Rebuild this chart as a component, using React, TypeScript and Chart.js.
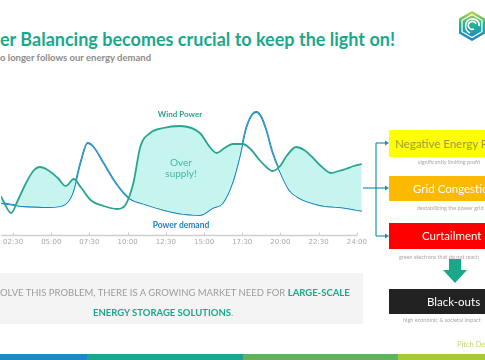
import React, { useEffect, useRef } from "react";
import { Chart, registerables } from "chart.js";

Chart.register(...registerables);

// ---- data ----
const tickLabels = ["00:00", "02:30", "05:00", "07:30", "10:00", "12:30", "15:00", "17:30", "20:00", "22:30", "24:00"];
const tickSlots = [1, 2, 3, 4, 5, 6, 7, 8, 9, 10];

// x = time slot (one slot per tick label), y = power (arbitrary units)
const windSlots = [0.48, 0.69, 0.95, 1.13, 1.34, 1.55, 1.70, 1.91, 2.17, 2.38, 2.59, 2.77, 3.03, 3.37, 3.73, 3.94, 4.15, 4.33, 4.59, 4.93, 5.37, 5.89, 6.15, 6.33, 6.54, 6.75, 7.01, 7.24, 7.45, 7.63, 7.79, 7.97, 8.18, 8.41, 8.62, 8.83, 9.06, 9.32, 9.53, 9.71, 9.92, 10.13];
const windPower = [50, 38, 22, 35, 52, 65, 68, 65, 57, 49, 56, 48, 35, 29, 26, 30, 52, 88, 102, 107, 109, 102, 88, 82, 87, 91, 91, 85, 75, 68, 64, 68, 80, 88, 85, 78, 69, 62, 64, 66, 69, 71];

const demandSlots = [0.43, 0.69, 1.21, 1.99, 2.33, 2.56, 2.77, 2.95, 3.11, 3.37, 3.69, 4.0, 4.51, 5.29, 5.89, 6.23, 6.49, 6.75, 6.93, 7.11, 7.27, 7.37, 7.50, 7.63, 7.79, 7.97, 8.23, 8.49, 9.01, 9.71, 10.13];
const powerDemand = [33, 32, 29, 28, 30, 42, 73, 92, 88, 72, 52, 38, 30, 22, 20, 27, 32, 53, 78, 108, 121, 123, 118, 105, 83, 65, 45, 37, 30, 27, 24];

const WIND = "#27a58e";
const DEMAND = "#1d86c0";
const FILL = "#c6f4ef";
const TEAL = "#1aa88c";
const ARROW = "#1e93ad";

const axisLine = {
  id: "axisLine",
  afterDatasetsDraw(chart: any) {
    const { ctx, chartArea, scales } = chart;
    const x = scales.x;
    const y = chartArea.bottom + 0.5;
    ctx.save();
    ctx.strokeStyle = "#cfcfcf";
    ctx.lineWidth = 1.5;
    ctx.beginPath();
    ctx.moveTo(chartArea.left, y);
    ctx.lineTo(x.getPixelForValue(tickSlots[tickSlots.length - 1]), y);
    ctx.stroke();
    ctx.lineWidth = 1;
    ctx.beginPath();
    tickSlots.forEach((v) => {
      const px = Math.round(x.getPixelForValue(v)) + 0.5;
      ctx.moveTo(px, y);
      ctx.lineTo(px, y - 3);
    });
    ctx.stroke();
    ctx.restore();
  },
};

function SupplyChart() {
  const ref = useRef<HTMLCanvasElement>(null);
  useEffect(() => {
    if (!ref.current) return;
    const chart = new Chart(ref.current, {
      type: "line",
      data: {
        datasets: [
          {
            label: "Wind Power",
            data: windSlots.map((x, i) => ({ x, y: windPower[i] })),
            borderColor: WIND,
            borderWidth: 1.8,
            pointRadius: 0,
            cubicInterpolationMode: "monotone",
            fill: { target: 1, above: FILL, below: "rgba(0,0,0,0)" },
          },
          {
            label: "Power demand",
            data: demandSlots.map((x, i) => ({ x, y: powerDemand[i] })),
            borderColor: DEMAND,
            borderWidth: 1.8,
            pointRadius: 0,
            cubicInterpolationMode: "monotone",
            fill: false,
          },
        ],
      },
      options: {
        animation: false,
        responsive: false,
        layout: { padding: { left: 0, right: 7, top: 5, bottom: 0 } },
        plugins: { legend: { display: false }, tooltip: { enabled: false } },
        scales: {
          x: {
            type: "linear",
            min: 0.687,
            max: 10.13,
            grid: { display: false, drawTicks: false },
            border: { display: false },
            afterBuildTicks: (scale: any) => {
              scale.ticks = tickSlots.map((v) => ({ value: v }));
            },
            afterFit: (scale: any) => {
              scale.height = 15;
            },
            ticks: {
              padding: 3,
              autoSkip: false,
              maxRotation: 0,
              color: "#a8a8a8",
              font: { size: 7, family: "'DejaVu Sans', sans-serif" },
              callback: (v: any) => tickLabels[Math.round(Number(v))],
            },
          },
          y: { display: false, min: 0, max: 140 },
        },
      },
      plugins: [axisLine],
    } as any);
    return () => chart.destroy();
  }, []);
  return <canvas ref={ref} width={370} height={160} style={{ display: "block" }} />;
}

const abs = (s: React.CSSProperties): React.CSSProperties => ({ position: "absolute", whiteSpace: "nowrap", ...s });

function Logo() {
  const cx = 472, cy = 26;
  const hex = (r: number) =>
    [0, 1, 2, 3, 4, 5]
      .map((k) => {
        const a = (Math.PI / 3) * k - Math.PI / 2;
        return `${cx + r * Math.cos(a)},${cy + r * Math.sin(a)}`;
      })
      .join(" ");
  return (
    <svg width={485} height={60} style={{ position: "absolute", left: 0, top: 0 }}>
      <defs>
        <linearGradient id="lg" x1="0" y1="0" x2="0" y2="1">
          <stop offset="0" stopColor="#c2d733" />
          <stop offset="0.45" stopColor="#25b196" />
          <stop offset="1" stopColor="#1f7ec6" />
        </linearGradient>
      </defs>
      <polygon points={hex(15)} fill="url(#lg)" />
      <polygon points={hex(11.5)} fill="none" stroke="#fff" strokeWidth={1.2} />
      <path d="M476 24 a4 4 0 1 0 -2 5 M470 33 c-6 -3 -6 -12 1 -14 c5 -1 9 3 8 7" fill="none" stroke="#fff" strokeWidth={1.6} />
    </svg>
  );
}

function Connectors() {
  const head = (x: number, y: number) => `${x - 4},${y - 2.5} ${x},${y} ${x - 4},${y + 2.5}`;
  return (
    <svg width={485} height={360} style={{ position: "absolute", left: 0, top: 0 }}>
      <g stroke={ARROW} strokeWidth={1.2} fill="none">
        <line x1={363} y1={188} x2={376} y2={188} />
        <line x1={376} y1={143} x2={376} y2={236} />
        <line x1={376} y1={143} x2={387} y2={143} />
        <line x1={376} y1={188} x2={387} y2={188} />
        <line x1={376} y1={236} x2={387} y2={236} />
      </g>
      <g fill={ARROW}>
        <polygon points={head(389, 143)} />
        <polygon points={head(389, 188)} />
        <polygon points={head(389, 236)} />
      </g>
      <polygon points="449,259 461,259 461,270 467,270 455,283 443,270 449,270" fill="#1aa88a" />
    </svg>
  );
}

const boxText: React.CSSProperties = { fontSize: 11.5, fontWeight: 400, fontFamily: "Lato, 'Noto Sans', sans-serif" };
const caption: React.CSSProperties = { fontSize: 5.5, color: "#a9a9a9", lineHeight: "6px" };

export default function App() {
  return (
    <div
      style={{
        position: "absolute",
        left: 0,
        top: 0,
        width: 485,
        height: 360,
        overflow: "hidden",
        background: "#fff",
        fontFamily: "Lato, 'Noto Sans', sans-serif",
      }}
    >
      <div style={abs({ left: 0, top: 30, fontSize: 18, lineHeight: "18px", fontWeight: 700, color: TEAL })}>
        er Balancing becomes crucial to keep the light on!
      </div>
      <div style={abs({ left: 0, top: 52.5, fontSize: 9.5, lineHeight: "9.5px", fontWeight: 700, color: "#8c8c8c" })}>
        o longer follows our energy demand
      </div>
      <Logo />

      <div style={{ position: "absolute", left: 0, top: 90, width: 370, height: 160 }}>
        <SupplyChart />
      </div>

      <div style={abs({ left: 130, width: 100, top: 110, textAlign: "center", fontSize: 8, lineHeight: "9px", fontWeight: 700, color: WIND })}>
        Wind Power
      </div>
      <div style={abs({ left: 131, width: 100, top: 157, textAlign: "center", fontSize: 10, lineHeight: "11px", color: "#45b7a4" })}>
        Over
        <br />
        supply!
      </div>
      <div style={abs({ left: 131, width: 100, top: 221, textAlign: "center", fontSize: 8.5, lineHeight: "9px", fontWeight: 700, color: DEMAND })}>
        Power demand
      </div>

      <Connectors />

      <div style={abs({ left: 389, top: 130, width: 130, height: 27, background: "#ffff00", lineHeight: "27px", paddingLeft: 6, boxSizing: "border-box", color: "#9d9d45", ...boxText })}>
        Negative Energy P
      </div>
      <div style={abs({ left: 418, top: 159, ...caption })}>significantly limiting profit</div>
      <div style={abs({ left: 389, top: 176, width: 130, height: 25, background: "#fbb900", lineHeight: "25px", paddingLeft: 24, boxSizing: "border-box", color: "#fff", ...boxText })}>
        Grid Congestio
      </div>
      <div style={abs({ left: 417, top: 205, ...caption })}>destabilizing the power grid</div>
      <div style={abs({ left: 389, top: 223, width: 130, height: 26, background: "#fe0000", lineHeight: "26px", paddingLeft: 33, boxSizing: "border-box", color: "#fff", ...boxText })}>
        Curtailment
      </div>
      <div style={abs({ left: 399, top: 254, ...caption })}>green electrons that do not reach</div>
      <div style={abs({ left: 389, top: 289, width: 130, height: 25, background: "#222222", lineHeight: "25px", paddingLeft: 38, boxSizing: "border-box", color: "#fff", ...boxText })}>
        Black-outs
      </div>
      <div style={abs({ left: 403, top: 317, ...caption })}>high economic &amp; societal impact</div>

      <div style={{ position: "absolute", left: 0, top: 273, width: 363, height: 51, background: "#f4f4f4" }} />
      <div style={abs({ left: 0, top: 288, fontSize: 9.5, lineHeight: "10px", color: "#9c9c9c" })}>
        OLVE THIS PROBLEM, THERE IS A GROWING MARKET NEED FOR <span style={{ color: TEAL, fontWeight: 700 }}>LARGE-SCALE</span>
      </div>
      <div style={abs({ left: 93, top: 308, fontSize: 9.5, lineHeight: "10px", color: "#9c9c9c" })}>
        <span style={{ color: TEAL, fontWeight: 700 }}>ENERGY STORAGE SOLUTIONS</span>.
      </div>

      <div style={abs({ left: 457, top: 340, fontSize: 7.5, lineHeight: "9px", color: "#c5d76a" })}>Pitch De</div>

      <div style={{ position: "absolute", left: 0, top: 354, width: 87, height: 6, background: "#1f87c9" }} />
      <div style={{ position: "absolute", left: 87, top: 354, width: 156, height: 6, background: "#1aa68e" }} />
      <div style={{ position: "absolute", left: 243, top: 354, width: 155, height: 6, background: "#5db45c" }} />
      <div style={{ position: "absolute", left: 398, top: 354, width: 87, height: 6, background: "#a6c93a" }} />
    </div>
  );
}
